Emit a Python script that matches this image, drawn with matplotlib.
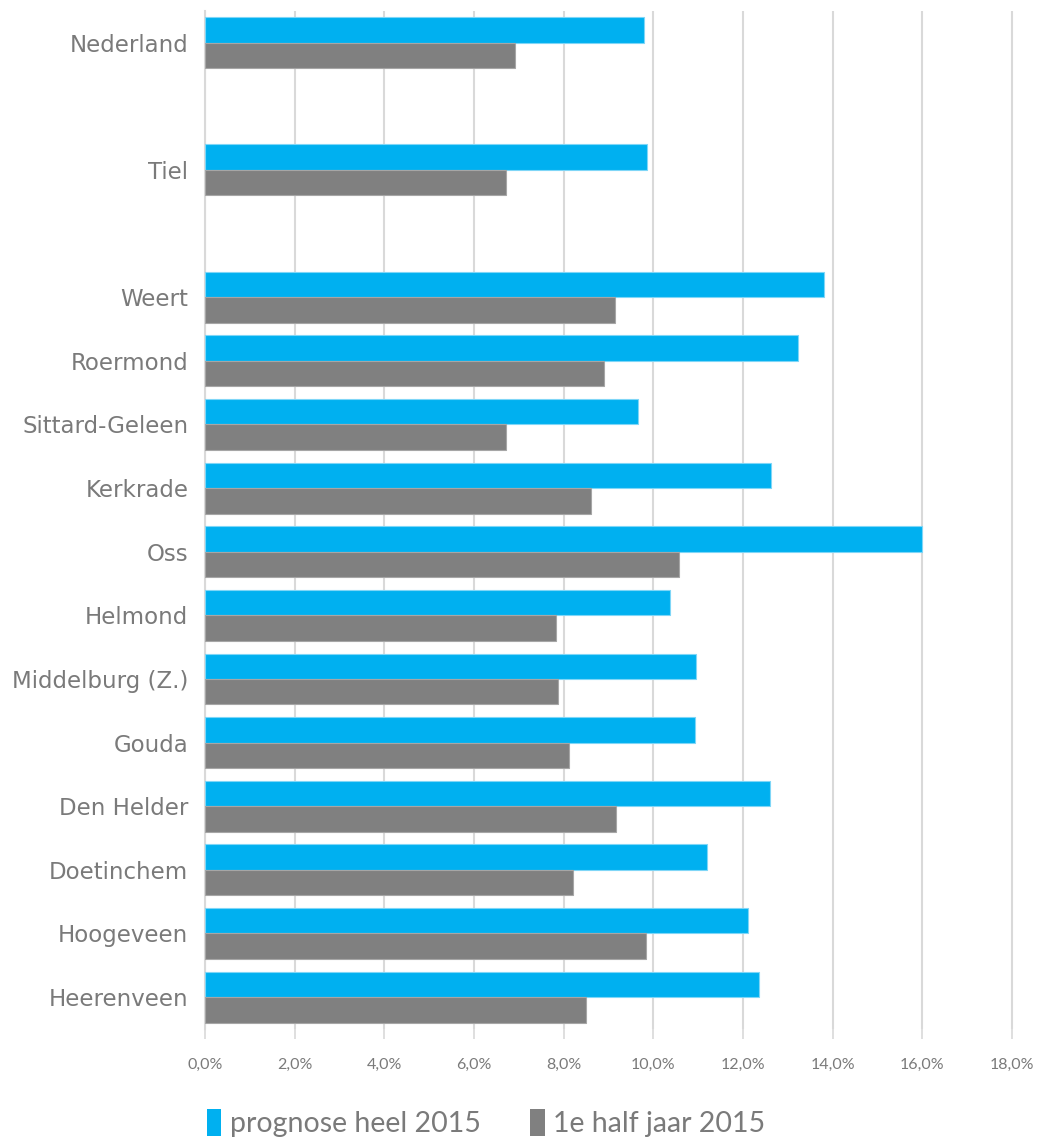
import numpy as np
import matplotlib
matplotlib.use("Agg")
from matplotlib import pyplot as plt
from matplotlib.ticker import FuncFormatter
from matplotlib.patches import Patch

# blank entries are the empty rows of the original sheet
gemeenten = ["Nederland", "", "Tiel", "", "Weert", "Roermond", "Sittard-Geleen",
             "Kerkrade", "Oss", "Helmond", "Middelburg (Z.)", "Gouda",
             "Den Helder", "Doetinchem", "Hoogeveen", "Heerenveen"]
prognose_2015 = [9.80, None, 9.86, None, 13.81, 13.22, 9.67, 12.62, 15.99, 10.37,
                 10.95, 10.94, 12.60, 11.21, 12.12, 12.35]
half_jaar_2015 = [6.92, None, 6.72, None, 9.14, 8.91, 6.72, 8.62, 10.57, 7.82,
                  7.87, 8.11, 9.16, 8.22, 9.84, 8.51]
x_ticks = [0, 2, 4, 6, 8, 10, 12, 14, 16, 18]

blauw = "#00B0F0"
grijs = "#808080"
tekst = "#7a7a7a"

prog = np.array([np.nan if v is None else v for v in prognose_2015], dtype=float)
half = np.array([np.nan if v is None else v for v in half_jaar_2015], dtype=float)
y = np.arange(len(gemeenten))
h = 0.4

fig = plt.figure(figsize=(10.42, 11.42), dpi=100)
ax = fig.add_axes([0.1967, 0.099, 0.7765, 0.8915])

m = ~np.isnan(prog)
ax.barh(y[m] - h / 2, prog[m], height=h, color=blauw, edgecolor="#7fd6f7", linewidth=0.8, zorder=3)
m = ~np.isnan(half)
ax.barh(y[m] + h / 2, half[m], height=h, color=grijs, edgecolor="#a6a6a6", linewidth=0.8, zorder=3)

ax.set_ylim(len(gemeenten) - 0.5, -0.5)
ax.set_xlim(0, 18.05)
ax.set_xticks(x_ticks)
ax.xaxis.set_major_formatter(FuncFormatter(lambda v, p: f"{v:.1f}%".replace(".", ",")))
ax.set_yticks(y)
ax.set_yticklabels(gemeenten, fontsize=16.5, color=tekst, family="DejaVu Sans")
ax.tick_params(axis="y", length=0, pad=12)
ax.tick_params(axis="x", length=7, color="#d9d9d9", width=1.2, labelsize=11.5,
               labelcolor=tekst, pad=14)
for lab in ax.get_xticklabels():
    lab.set_family("Lato")

ax.grid(axis="x", color="#d9d9d9", linewidth=1.5, zorder=0)
for s in ["top", "right", "bottom"]:
    ax.spines[s].set_visible(False)
ax.spines["left"].set_color("#d9d9d9")
ax.spines["left"].set_linewidth(1.5)

handles = [Patch(facecolor=blauw, label="prognose heel 2015"),
           Patch(facecolor=grijs, label="1e half jaar 2015")]
leg = fig.legend(handles=handles, loc="lower left", bbox_to_anchor=(0.174, -0.018), ncol=2,
                 frameon=False, handlelength=0.5, handleheight=1.1,
                 handletextpad=0.3, columnspacing=1.75, prop={"family": "Lato", "size": 20.5})
for t in leg.get_texts():
    t.set_color(tekst)

fig.savefig("out.png", dpi=100)
